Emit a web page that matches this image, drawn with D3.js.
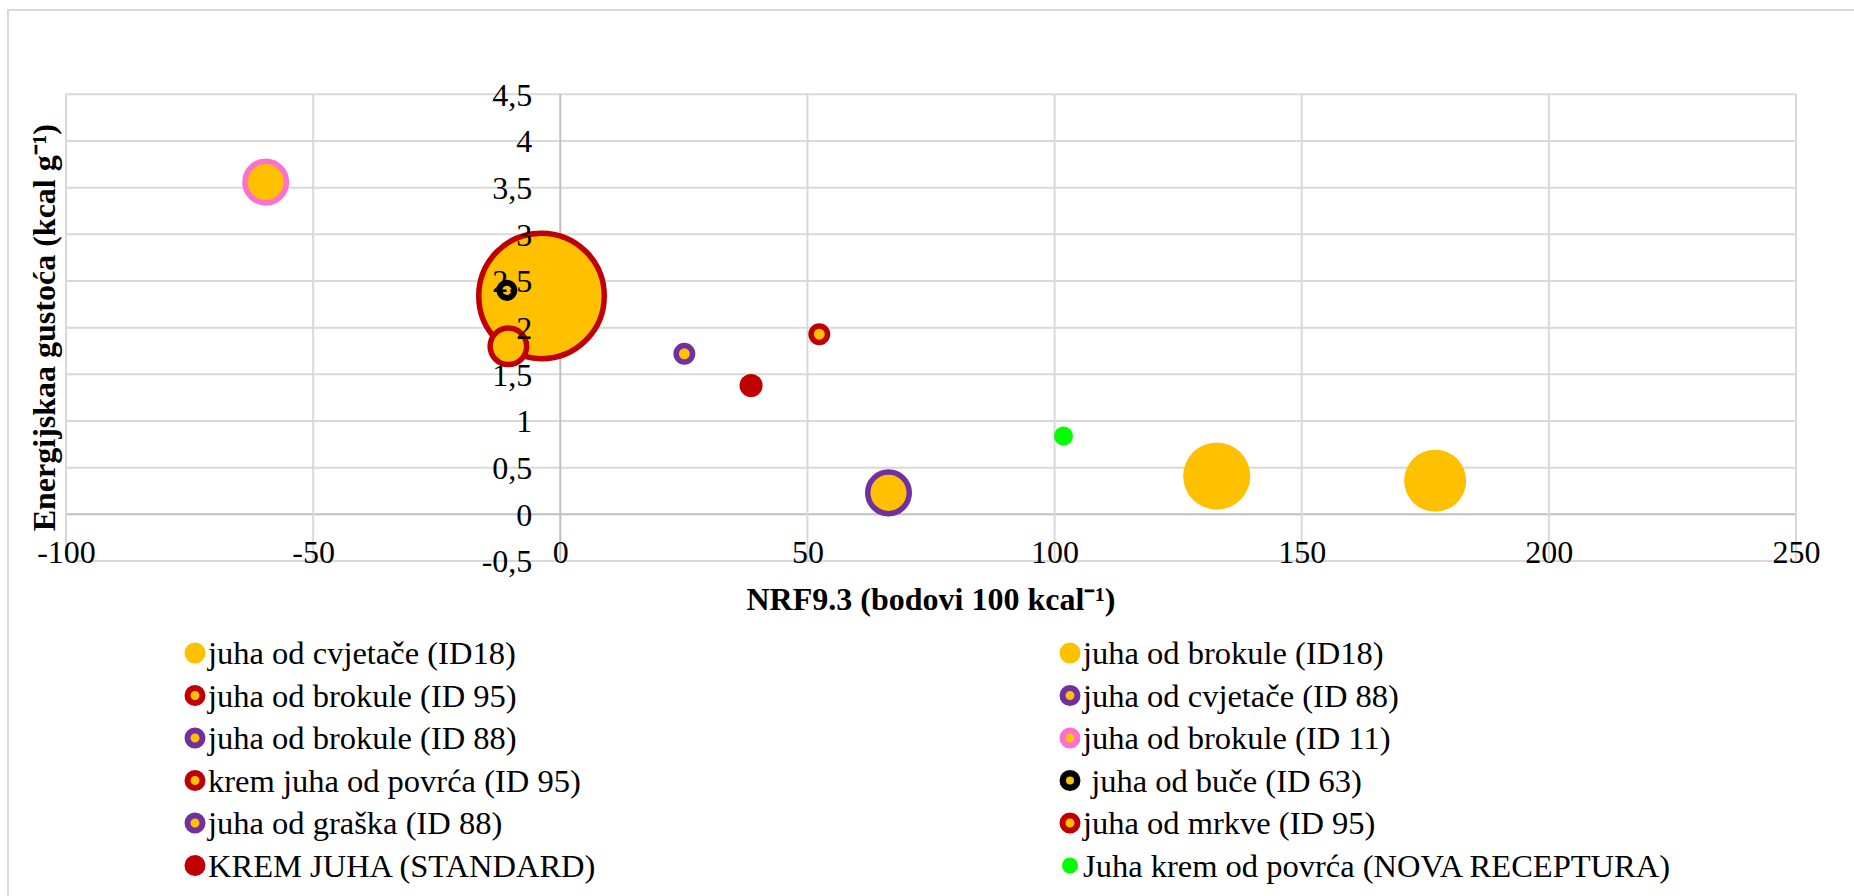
<!DOCTYPE html>
<html>
<head>
<meta charset="utf-8">
<script src="https://cdn.jsdelivr.net/npm/d3@7"></script>
<style>
  html, body { margin: 0; padding: 0; background: #fff; }
  svg { display: block; }
  text { font-family: "Liberation Serif", "Times New Roman", serif; fill: #000; }
</style>
</head>
<body>
<svg id="chart" width="1854" height="896"></svg>
<script>
// ---- data ----
const seriesNames = [
  "juha od cvjetače (ID18)",
  "juha od brokule (ID18)",
  "juha od brokule (ID 95)",
  "juha od cvjetače (ID 88)",
  "juha od brokule (ID 88)",
  "juha od brokule (ID 11)",
  "krem juha od povrća (ID 95)",
  " juha od buče (ID 63)",
  "juha od graška (ID 88)",
  "juha od mrkve (ID 95)",
  "KREM JUHA (STANDARD)",
  "Juha krem od povrća (NOVA RECEPTURA)"
];
const nrfValues    = [132.8, 177.0, -10.5, 66.4, null, -59.6, -3.8, -10.8, 25.1, 52.4, 38.6, 101.8];
const energyValues = [0.41,  0.36,  1.80,  0.23, null,  3.56,  2.34,  2.40, 1.72, 1.93, 1.38, 0.84];
const bubbleSizes  = [26.2,  22.4,  10.3,  12.9, null,  12.9, 100.0,  2.6,  2.8,  2.8,  3.1,  2.1];
const xTicks = [-100, -50, 0, 50, 100, 150, 200, 250];
const yTicks = [-0.5, 0, 0.5, 1, 1.5, 2, 2.5, 3, 3.5, 4, 4.5];
const xTitle = "NRF9.3 (bodovi 100 kcal\u207B\u00B9)";
const yTitle = "Energijskaa gustoća (kcal g\u207B\u00B9)";

// ---- styles ----
const YEL = "#FFC000", RED = "#C00000", PUR = "#7030A0", PINK = "#FF6FCF", BLK = "#000000", GRN = "#00FF00";
const fillColors   = [YEL, YEL, YEL, YEL, YEL, YEL, YEL, YEL, YEL, YEL, RED, GRN];
const strokeColors = [null, null, RED, PUR, PUR, PINK, RED, BLK, PUR, RED, null, null];

const svg = d3.select("#chart");

// outer chart border
svg.append("rect").attr("x", 8).attr("y", 10).attr("width", 1900).attr("height", 950)
  .attr("fill", "none").attr("stroke", "#D9D9D9").attr("stroke-width", 2);

const x = d3.scaleLinear().domain([-100, 250]).range([66, 1796]);
const y = d3.scaleLinear().domain([-0.5, 4.5]).range([561, 94.3]);
const r = d3.scaleSqrt().domain([0, 100]).range([0, 65.5]);

const fmt = v => String(v).replace(".", ",");

// gridlines
const grid = svg.append("g");
grid.selectAll("line.h").data(yTicks).join("line")
  .attr("x1", x(-100)).attr("x2", x(250))
  .attr("y1", d => y(d)).attr("y2", d => y(d))
  .attr("stroke", d => d === 0 ? "#BFBFBF" : "#D9D9D9").attr("stroke-width", 2);
grid.selectAll("line.v").data(xTicks).join("line")
  .attr("y1", y(-0.5)).attr("y2", y(4.5))
  .attr("x1", d => x(d)).attr("x2", d => x(d))
  .attr("stroke", d => d === 0 ? "#BFBFBF" : "#D9D9D9").attr("stroke-width", 2);

// bubbles (largest drawn first)
const pts = seriesNames.map((n, i) => ({
  i, x: nrfValues[i], y: energyValues[i], s: bubbleSizes[i],
  fill: fillColors[i], stroke: strokeColors[i]
})).filter(d => d.x !== null).sort((a, b) => b.s - a.s);

const bub = svg.append("g");
pts.forEach(d => {
  const R = r(d.s);
  const sw = d.stroke ? (d.stroke === BLK ? 6 : 5.5) : 0;
  bub.append("circle")
    .attr("cx", x(d.x)).attr("cy", y(d.y))
    .attr("r", d.stroke ? R - sw / 2 : R)
    .attr("fill", d.fill)
    .attr("stroke", d.stroke || "none")
    .attr("stroke-width", sw);
});

// y tick labels (axis crosses at x = 0)
const yAxis = d3.axisLeft(y).tickValues(yTicks).tickFormat(fmt).tickSize(0).tickPadding(28);
const gy = svg.append("g").attr("transform", `translate(${x(0)},0)`).call(yAxis);
gy.select(".domain").remove();
gy.selectAll("text").attr("font-size", 32).attr("font-family", "Liberation Serif").attr("fill", "#000")
  .attr("dy", "0.34em");

// x tick labels
const xAxis = d3.axisBottom(x).tickValues(xTicks).tickFormat(d => String(d)).tickSize(0).tickPadding(0);
const gx = svg.append("g").attr("transform", `translate(0,${y(-0.5)})`).call(xAxis);
gx.select(".domain").remove();
gx.selectAll("text").attr("font-size", 32).attr("font-family", "Liberation Serif").attr("fill", "#000")
  .attr("y", 2).attr("dy", 0);

// axis titles
svg.append("text").attr("x", (x(-100) + x(250)) / 2).attr("y", 610)
  .attr("text-anchor", "middle").attr("font-size", 32).attr("font-weight", "bold").text(xTitle);
svg.append("text").attr("transform", `translate(55,${(y(-0.5) + y(4.5)) / 2}) rotate(-90)`)
  .attr("text-anchor", "middle").attr("font-size", 32).attr("font-weight", "bold").text(yTitle);

// legend
const legCols = [195, 1070];
const rowY0 = 653, rowStep = 42.5;
const leg = svg.append("g");
seriesNames.forEach((name, i) => {
  const cx = legCols[i % 2], cy = rowY0 + Math.floor(i / 2) * rowStep;
  const g = leg.append("g");
  if (strokeColors[i]) {
    const sw = strokeColors[i] === BLK ? 6.5 : 6;
    g.append("circle").attr("cx", cx).attr("cy", cy).attr("r", 10.5 - sw / 2)
      .attr("fill", fillColors[i]).attr("stroke", strokeColors[i]).attr("stroke-width", sw);
  } else {
    g.append("circle").attr("cx", cx).attr("cy", cy).attr("r", fillColors[i] === GRN ? 8 : 10.5)
      .attr("fill", fillColors[i]);
  }
  g.append("text").attr("x", cx + 13).attr("y", cy + 11)
    .attr("font-size", 32.5).attr("xml:space", "preserve").style("white-space", "pre").text(name);
});
</script>
</body>
</html>
